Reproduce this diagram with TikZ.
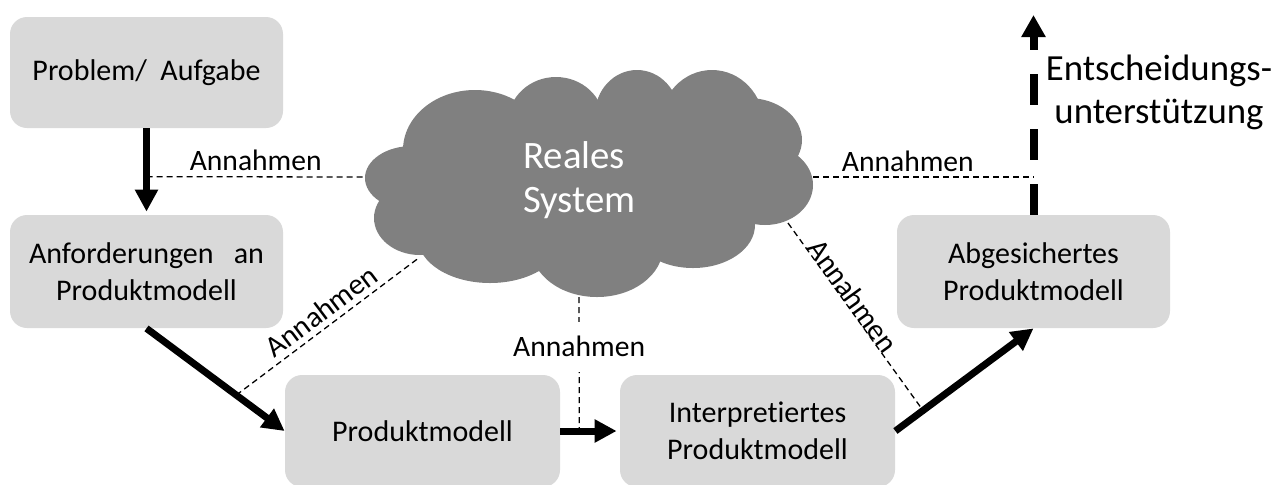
\documentclass[tikz,border=0pt]{standalone}
\usepackage{fontspec}
\setmainfont{Carlito}[Ligatures={NoCommon}]
\usetikzlibrary{arrows.meta,calc}
\definecolor{boxgray}{HTML}{D9D9D9}
\definecolor{cloudgray}{HTML}{808080}
\begin{document}
\begin{tikzpicture}[x=0.5pt,y=-0.5pt,
  stepbox/.style={fill=boxgray, rounded corners=8.5pt, minimum width=136.5pt,
    minimum height=56pt, align=center, inner sep=0pt,
    font=\fontsize{15}{18.5}\selectfont},
  flow/.style={line width=3.5pt, -{Triangle[width=11pt,length=11pt]}},
  assume/.style={line width=0.65pt, dash pattern=on 3pt off 2pt},
  asmlabel/.style={font=\fontsize{14.8}{17}\selectfont, inner sep=2.5pt},
  puff/.style={fill=cloudgray}]
\clip (0,0) rectangle (1287,484);

% process boxes
\node[stepbox, minimum height=55.5pt] (prob) at (146.5,72.5) {Problem/\ \ Aufgabe};
\node[stepbox, minimum height=56.5pt] (anf) at (146.5,271.5) {Anforderungen\hspace{0.45em} an\\Produktmodell};
\node[stepbox, minimum width=137.5pt] (pm) at (422.5,431) {Produktmodell};
\node[stepbox, minimum width=137.5pt] (ipm) at (757.5,431) {Interpretiertes\\Produktmodell};
\node[stepbox, minimum height=56.5pt] (apm) at (1033.5,271.5) {Abgesichertes\\Produktmodell};

% cloud "Reales System" built from overlapping ellipses
\fill[puff] (590,185) ellipse [x radius=85pt, y radius=37.5pt];
\fill[puff] (412,178) ellipse [x radius=23.5pt, y radius=16pt];
\fill[puff] (475,150) ellipse [x radius=36pt, y radius=30pt];
\fill[puff] (556,122) ellipse [x radius=24pt, y radius=22.5pt];
\fill[puff] (637,115) ellipse [x radius=21pt, y radius=22.5pt];
\fill[puff] (712,125) ellipse [x radius=26pt, y radius=27.5pt];
\fill[puff] (748,140) ellipse [x radius=27pt, y radius=21pt];
\fill[puff] (765,185) ellipse [x radius=24pt, y radius=20pt];
\fill[puff] (693,225) ellipse [x radius=31pt, y radius=21.5pt];
\fill[puff] (597,247) ellipse [x radius=33pt, y radius=25pt];
\fill[puff] (490,238) ellipse [x radius=36pt, y radius=22.5pt];
\fill[puff] (420,218) ellipse [x radius=23pt, y radius=18.5pt];
\node[text=white, align=left, anchor=west, inner sep=0pt, font=\fontsize{19.4}{22}\selectfont] (real) at (523,180) {Reales\\System};

% attachment points on the cloud outline
\coordinate (cL) at (365,177);
\coordinate (cR) at (813,177);
\coordinate (cBL) at (420,257);
\coordinate (cB) at (579,297);
\coordinate (cBR) at (788,223);

% decision support goal
\coordinate (top) at (1033.5,15);
\node[align=center, inner sep=0pt, font=\fontsize{18.4}{21.5}\selectfont] (dec) at (1159,92) {Entscheidungs-\\unterstützung};

% points on the process arrows where assumptions enter
\coordinate (a1) at ($(prob.south)!0.56!(anf.north)$);
\coordinate (a2) at ($(anf.south)!0.65!(pm.west)$);
\coordinate (a3) at ($(pm.east)!0.32!(ipm.west)$);
\coordinate (a4) at ($(ipm.east)!0.2!(apm.south)$);
\coordinate (a5) at (apm.north |- cR);

% assumptions
\draw[assume] (a1) -- node[asmlabel, above] (lA) {Annahmen} (cL);
\draw[assume] (cR) -- node[asmlabel, above, pos=0.43] (lB) {Annahmen} (a5);
\draw[assume] (a2) -- node[asmlabel, above, sloped, pos=0.515] (lC) {Annahmen} (cBL);
\draw[assume] (cB) -- node[asmlabel, fill=white, pos=0.37, minimum height=25pt, inner sep=0pt] (lD) {Annahmen} (a3);
\draw[assume] (cBR) -- node[asmlabel, sloped, anchor=base, inner sep=0pt, pos=0.42] (lE) {Annahmen} (a4);

% process flow
\draw[flow, shorten >=1.5pt] (prob) -- (anf);
\draw[flow] (anf.south) -- (pm.west);
\draw[flow, shorten >=1.5pt] (pm) -- (ipm);
\draw[flow] (ipm.east) -- (apm.south);
\draw[line width=4pt, dash pattern=on 15.5pt off 12pt, -{Triangle[width=11.5pt,length=11pt]}] (apm.north) -- (top);
\end{tikzpicture}
\end{document}
